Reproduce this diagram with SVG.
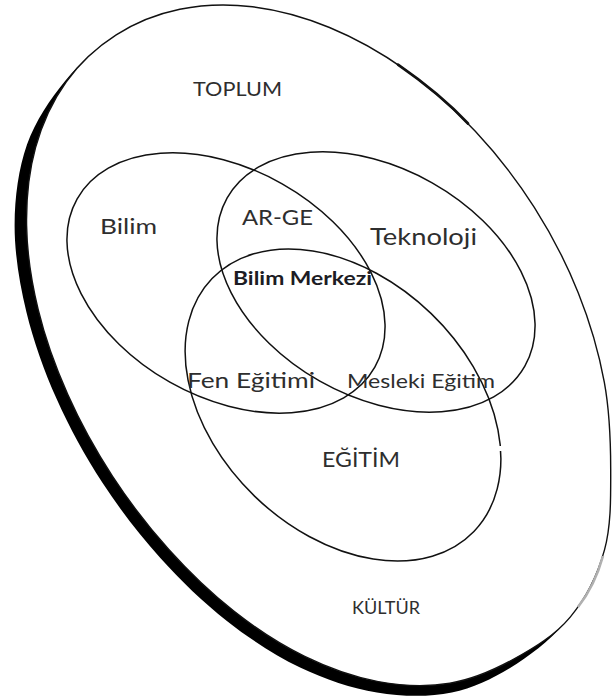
<svg xmlns="http://www.w3.org/2000/svg" width="612" height="698" viewBox="0 0 612 698">
  <style>
    .ring { fill: none; stroke: #111; stroke-width: 1.5; }
    .lbl { font-family: Lato, "Open Sans", "Liberation Sans", sans-serif; fill: #2e2e2e; }
    .bold { font-weight: bold; fill: #1c1c24; }
  </style>
  <rect width="612" height="698" fill="#ffffff"/>

  <g id="toplum-kultur">
    <!-- thick lower-left band -->
    <path d="M 570.2,617.1 C 555.08,635.3 536.53,651.13 516.8,663.7 C 497.07,676.27 475.12,687.7 451.8,692.5 C 428.48,697.3 402.18,696.67 376.9,692.5 C 351.62,688.33 325.1,679.43 300.1,667.5 C 275.1,655.57 250.23,639.2 226.9,620.9 C 203.57,602.6 180.87,580.77 160.1,557.7 C 139.33,534.63 119.53,508.93 102.3,482.5 C 85.07,456.07 69.35,427.53 56.7,399.1 C 44.05,370.67 33.42,340.93 26.4,311.9 C 19.38,282.87 14.5,252.78 14.6,224.9 C 14.7,197.02 18.58,168.6 27,144.6 C 35.42,120.6 50.23,99.18 65.1,80.9 C 79.97,62.62 97.28,46.98 116.2,34.9 Z" fill="#000"/>
    <!-- outer boundary -->
    <path d="M 513.8,659.1 C 493.75,670.12 472.5,679.45 449.9,683.2 C 427.3,686.95 402.4,686.07 378.2,681.6 C 354,677.13 328.77,668.15 304.7,656.4 C 280.63,644.65 256.45,628.92 233.8,611.1 C 211.15,593.28 189.03,572 168.8,549.5 C 148.57,527 129.23,501.92 112.4,476.1 C 95.57,450.28 80.17,422.33 67.8,394.6 C 55.43,366.87 45.07,337.9 38.2,309.7 C 31.33,281.5 27.03,252.45 26.6,225.4 C 26.17,198.35 28.98,171.33 35.6,147.4 C 42.22,123.47 52.87,100.55 66.3,81.8 C 79.73,63.05 97.28,46.98 116.2,34.9 C 135.12,22.82 157.08,13.98 179.8,9.3 C 202.52,4.62 227.55,3.77 252.5,6.8 C 277.45,9.83 304,16.98 329.5,27.5 C 355,38.02 381.2,52.6 405.5,69.9 C 429.8,87.2 453.83,108.4 475.3,131.3 C 496.77,154.2 517.13,180.37 534.3,207.3 C 551.47,234.23 566.63,263.77 578.3,292.9 C 589.97,322.03 598.9,352.77 604.3,382.1 C 609.7,411.43 610.67,440.93 610.7,468.9 C 610.73,496.87 611.25,525.2 604.5,549.9 C 597.75,574.6 585.32,598.9 570.2,617.1 C 555.08,635.3 533.85,648.08 513.8,659.1 Z" fill="#fff" stroke="#111" stroke-width="1.4"/>
    <path d="M 398,64.6 C 424,82.6 448,102 468,123.5" fill="none" stroke="#111" stroke-width="2.7" stroke-linecap="round"/>
    <path d="M 603,556 C 598,574 590,592 578,607" fill="none" stroke="#b0b0b0" stroke-width="2.6"/>
  </g>

  <g id="bilim">
    <ellipse class="ring" cx="226" cy="283" rx="171" ry="114" transform="rotate(29.5 226 283)"/>
  </g>
  <g id="teknoloji">
    <ellipse class="ring" cx="376" cy="282" rx="171" ry="114" transform="rotate(29.5 376 282)"/>
  </g>
  <g id="egitim">
    <ellipse class="ring" cx="343" cy="405" rx="182" ry="127" transform="rotate(44 343 405)"/>
    <rect x="497" y="446" width="8" height="5" fill="#fff"/>
  </g>

  <g id="labels">
    <text class="lbl" x="193" y="96" font-size="20" textLength="89" lengthAdjust="spacingAndGlyphs">TOPLUM</text>
    <text class="lbl" x="100" y="234" font-size="22" textLength="57" lengthAdjust="spacingAndGlyphs">Bilim</text>
    <text class="lbl" x="242" y="225" font-size="22" textLength="71" lengthAdjust="spacingAndGlyphs">AR-GE</text>
    <text class="lbl" x="370" y="245" font-size="23" textLength="107" lengthAdjust="spacingAndGlyphs">Teknoloji</text>
    <text class="lbl bold" x="233" y="285" font-size="19" textLength="139" lengthAdjust="spacingAndGlyphs">Bilim Merkezi</text>
    <text class="lbl" x="187" y="388" font-size="21" textLength="128" lengthAdjust="spacingAndGlyphs">Fen Eğitimi</text>
    <text class="lbl" x="347" y="388" font-size="20" textLength="148" lengthAdjust="spacingAndGlyphs">Mesleki Eğitim</text>
    <text class="lbl" x="322" y="467" font-size="22" textLength="78" lengthAdjust="spacingAndGlyphs">EĞİTİM</text>
    <text class="lbl" x="352" y="614" font-size="17" textLength="68" lengthAdjust="spacingAndGlyphs">KÜLTÜR</text>
  </g>
</svg>
